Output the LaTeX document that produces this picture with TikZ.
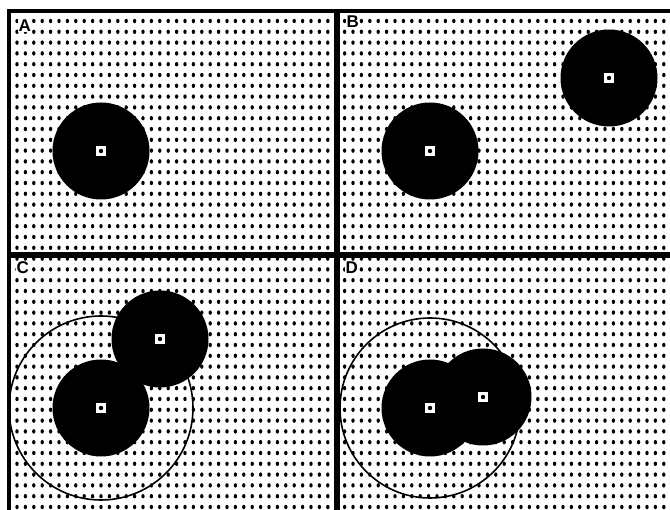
\documentclass[tikz,border=0pt]{standalone}
\usepackage{fontspec}
\setsansfont{Liberation Sans}
\usepackage{tikz}
\usetikzlibrary{positioning}
\tikzset{
  blob/.style      = {circle, fill=black, draw=none, minimum size=97pt, inner sep=0pt},
  centre/.style    = {rectangle, fill=white, draw=none, minimum size=10pt, inner sep=0pt},
  panelname/.style = {font=\sffamily\bfseries\fontsize{17}{18}\selectfont, fill=white, inner sep=0.5pt, anchor=north west},
  divider/.style   = {line width=5.5pt, draw=black},
  reachring/.style = {line width=1.6pt, draw=black},
}

\begin{document}
\begin{tikzpicture}[x=1pt, y=-1pt]
  \useasboundingbox (0,0) rectangle (670,510);
  \clip (0,0) rectangle (670,510);
  \fill[white] (0,0) rectangle (670,510);
  % dot grid
  \foreach \i in {0,...,77}
    \foreach \j in {0,...,45}
      \fill (17+8.4*\i, 21+10.8*\j) ellipse (1.7 and 2.2);
  % frame and panel dividers
  \draw[line width=3.5pt] (9,530) -- (9,11) -- (690,11);
  \draw[divider] (337,11) -- (337,530);
  \draw[divider] (9,255) -- (690,255);
  % A
  \node[blob] (a1) at (101,151) {};
  % B
  \node[blob] (b1) at (430,151) {};
  \node[blob] (b2) at (609,78) {};
  % C
  \node[blob] (c1) at (101,408) {};
  \node[blob] (c2) at (160,339) {};
  \draw[reachring] (c1.center) circle (92);
  % D
  \node[blob] (d1) at (430,408) {};
  \node[blob] (d2) at (483,397) {};
  \draw[reachring] (d1.center) circle (90);
  \foreach \n in {a1,b1,b2,c1,c2,d1,d2} {
    \node[centre] (\n sq) at (\n.center) {};
    \fill (\n.center) circle (2.2);
  }
  \node[panelname] (la) at (18,19) {A};
  \node[panelname] (lb) at (346,15) {B};
  \node[panelname] (lc) at (16,261) {C};
  \node[panelname] (ld) at (345,261) {D};
\end{tikzpicture}
\end{document}
